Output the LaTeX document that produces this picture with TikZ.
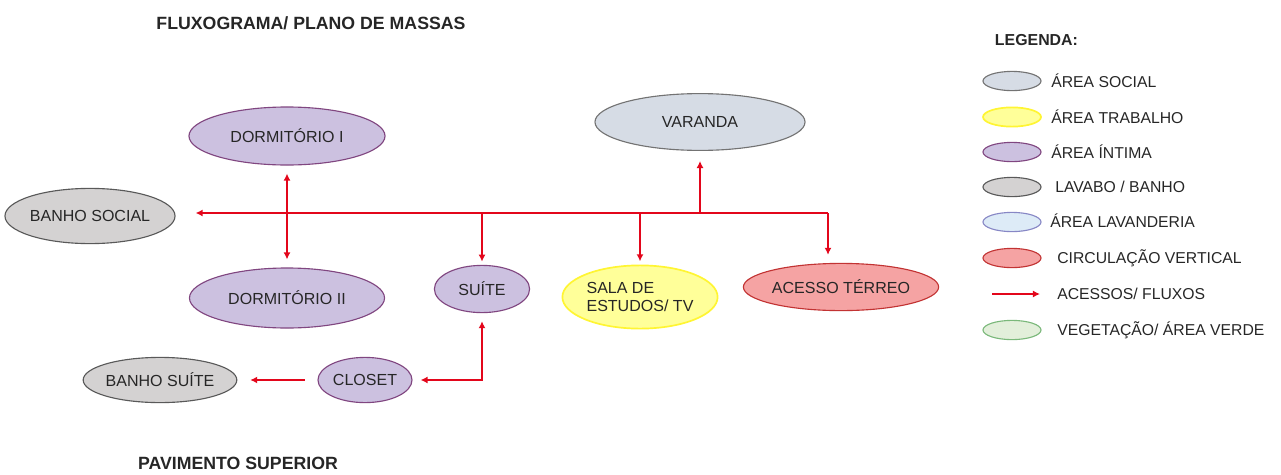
\documentclass[tikz,border=0pt]{standalone}
\usepackage{fontspec}
\setmainfont{Liberation Sans}
\usetikzlibrary{shapes.geometric,arrows.meta}

\definecolor{social}{HTML}{D6DCE5}
\definecolor{trabalho}{HTML}{FFFF99}
\definecolor{intima}{HTML}{CCC1E0}
\definecolor{banho}{HTML}{D4D2D2}
\definecolor{lavanderia}{HTML}{DDEBF7}
\definecolor{circulacao}{HTML}{F5A3A3}
\definecolor{verde}{HTML}{E2EFDA}
\definecolor{fluxored}{HTML}{E3061B}

\tikzset{
  zona/.style={ellipse, draw, line width=0.8pt, inner sep=0pt, text=black!85,
    font=\fontsize{11.4}{13}\selectfont, align=center},
  zsocial/.style={zona, fill=social, draw=black!55},
  ztrab/.style={zona, fill=trabalho, draw=yellow!80!white, line width=1.2pt},
  zintima/.style={zona, fill=intima, draw=violet!45!gray},
  zbanho/.style={zona, fill=banho, draw=black!65},
  zlav/.style={zona, fill=lavanderia, draw=blue!35!gray!70},
  zcirc/.style={zona, fill=circulacao, draw=red!70!black!80},
  zverde/.style={zona, fill=verde, draw=green!30!gray!80},
  leg/.style={minimum width=1.45cm, minimum height=0.48cm},
  legtxt/.style={anchor=west, inner sep=0pt, font=\fontsize{11.2}{13}\selectfont, text=black!85},
  titulo/.style={font=\bfseries\fontsize{12.6}{14}\selectfont, text=black!85},
  fluxo/.style={draw=fluxored, line width=1.4pt, >={Latex[length=5pt,width=5pt]}}
}

\begin{document}
\begin{tikzpicture}[x=0.025cm,y=-0.025cm]
  \useasboundingbox (0,0) rectangle (1281,474);

  % titulos
  \node[titulo] (tit) at (311,23) {FLUXOGRAMA/ PLANO DE MASSAS};
  \node[titulo] (pav) at (238,463) {PAVIMENTO SUPERIOR};

  % ambientes
  \node[zintima, minimum width=4.9cm, minimum height=1.45cm] (dorm1) at (287,136) {DORMITÓRIO I};
  \node[zintima, minimum width=4.875cm, minimum height=1.5cm] (dorm2) at (287,298) {DORMITÓRIO II};
  \node[zsocial, minimum width=5.25cm, minimum height=1.42cm] (varanda) at (700,122) {VARANDA};
  \node[zbanho, minimum width=3.9cm, minimum height=1.38cm] (bsocial) at (90,216) {BANHO SOCIAL};
  \node[zintima, minimum width=2.38cm, minimum height=1.18cm] (suite) at (482,289) {SUÍTE};
  \node[ztrab, minimum width=3.88cm, minimum height=1.58cm, align=left] (sala) at (640,297) {SALA DE\\ESTUDOS/ TV};
  \node[zcirc, minimum width=4.83cm, minimum height=1.18cm] (acesso) at (841,287) {ACESSO TÉRREO};
  \node[zintima, minimum width=2.35cm, minimum height=1.13cm] (closet) at (365,380) {CLOSET};
  \node[zbanho, minimum width=3.63cm, minimum height=1.13cm] (bsuite) at (160,380) {BANHO SUÍTE};

  % fluxos
  \coordinate (eixo) at (828,213);
  \draw[fluxo,->,shorten >=0.5cm] (eixo) -- (bsocial.east |- eixo);
  \draw[fluxo,<->,shorten >=0.2cm,shorten <=0.2cm] (dorm1) -- (dorm2);
  \draw[fluxo,->,shorten >=0.25cm] (varanda.south |- eixo) -- (varanda.south);
  \draw[fluxo,->,shorten >=0.08cm] (suite.north |- eixo) -- (suite.north);
  \draw[fluxo,->,shorten >=0.08cm] (sala.north |- eixo) -- (sala.north);
  \draw[fluxo,->,shorten >=0.2cm] (eixo) -- (eixo |- acesso.north);
  \draw[fluxo,<->,shorten >=0.2cm,shorten <=0.2cm] (suite.south) |- (closet.east);
  \draw[fluxo,->,shorten >=0.32cm,shorten <=0.32cm] (closet.west) -- (bsuite.east);

  % legenda
  \node[titulo, anchor=west, font=\bfseries\fontsize{11.3}{13}\selectfont] (legenda) at (990,40) {LEGENDA:};
  \node[zsocial, leg] (l1) at (1012,81) {};
  \node[legtxt] at (1051,81) {ÁREA SOCIAL};
  \node[ztrab, leg] (l2) at (1012,117) {};
  \node[legtxt] at (1051,117) {ÁREA TRABALHO};
  \node[zintima, leg] (l3) at (1012,152) {};
  \node[legtxt] at (1051,152) {ÁREA ÍNTIMA};
  \node[zbanho, leg] (l4) at (1012,187) {};
  \node[legtxt] at (1055,187) {LAVABO / BANHO};
  \node[zlav, leg] (l5) at (1012,222) {};
  \node[legtxt] at (1050,221) {ÁREA LAVANDERIA};
  \node[zcirc, leg] (l6) at (1012,258) {};
  \node[legtxt] at (1057,258) {CIRCULAÇÃO VERTICAL};
  \coordinate (la) at (992,294);
  \coordinate (lb) at (1040,294);
  \draw[fluxo,->] (la) -- (lb);
  \node[legtxt] at (1057,294) {ACESSOS/ FLUXOS};
  \node[zverde, leg] (l8) at (1012,330) {};
  \node[legtxt] at (1057,330) {VEGETAÇÃO/ ÁREA VERDE};
\end{tikzpicture}
\end{document}
